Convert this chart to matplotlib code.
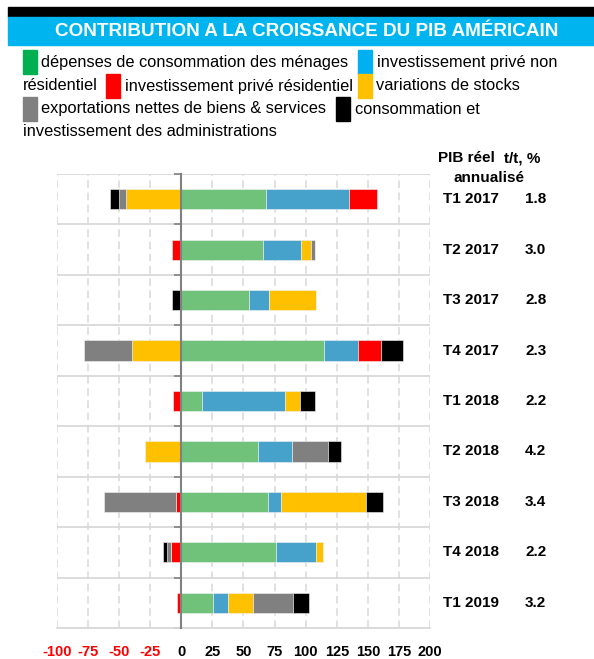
import numpy as np
import matplotlib
matplotlib.use('Agg')
import matplotlib.pyplot as plt
from matplotlib.patches import Rectangle
from matplotlib.ticker import FixedLocator

# data
quarters = ['T1 2017', 'T2 2017', 'T3 2017', 'T4 2017', 'T1 2018',
            'T2 2018', 'T3 2018', 'T4 2018', 'T1 2019']
pib = ['1.8', '3.0', '2.8', '2.3', '2.2', '4.2', '3.4', '2.2', '3.2']

menages = [67.7, 65.3, 54.3, 115.0, 16.7, 61.3, 69.9, 75.8, 25.5]
inv_non_res = [67.0, 30.9, 16.1, 27.2, 66.7, 27.4, 10.2, 32.5, 11.8]
inv_res = [22.6, -7.3, 0.0, 18.0, -6.7, -0.5, -4.0, -8.0, -3.5]
stocks = [-44.4, 7.8, 37.6, -39.5, 12.1, -29.0, 68.5, 5.6, 20.7]
exports = [-5.9, 3.5, 0.0, -39.0, 0.0, 29.3, -58.6, -3.8, 31.7]
admin = [-7.0, 0.0, -7.3, 17.7, 12.4, 10.2, 13.2, -3.2, 13.2]

series = [menages, inv_non_res, inv_res, stocks, exports, admin]
bar_colors = ['#70C17A', '#46A2CA', '#FF0000', '#FFC000', '#808080', '#000000']
leg_colors = ['#00B050', '#00B0F0', '#FF0000', '#FFC000', '#808080', '#000000']

xticks = [-100, -75, -50, -25, 0, 25, 50, 75, 100, 125, 150, 175, 200]

plt.rcParams['font.family'] = ['Liberation Sans', 'DejaVu Sans']

W, H = 594, 659
fig = plt.figure(figsize=(W / 100, H / 100), dpi=100)
fig.patch.set_facecolor('white')


def fx(px):
    return px / W


def fy(py):
    return 1 - py / H


# title bands
fig.patches.append(Rectangle((fx(8), fy(17)), 1, 10 / H, transform=fig.transFigure,
                             color='black', zorder=0))
fig.patches.append(Rectangle((fx(8), fy(45)), 1, 28 / H, transform=fig.transFigure,
                             color='#00B5EF', zorder=0))
fig.text(fx(307), fy(31), 'CONTRIBUTION A LA CROISSANCE DU PIB AMÉRICAIN',
         color='white', fontsize=13.6, fontweight='bold', ha='center', va='center')

# legend written as wrapped text with coloured squares
leg_fs = 11.8
items = [
    ('sq', 0, 22.7, 62), ('tx', 'dépenses de consommation des ménages', 41, 62),
    ('sq', 1, 358, 62), ('tx', 'investissement privé non', 377, 62),
    ('tx', 'résidentiel', 22.7, 86), ('sq', 2, 106, 86),
    ('tx', 'investissement privé résidentiel', 125, 86),
    ('sq', 3, 358, 86), ('tx', 'variations de stocks', 376, 86),
    ('sq', 4, 22.7, 109), ('tx', 'exportations nettes de biens & services', 41, 109),
    ('sq', 5, 336, 109), ('tx', 'consommation et', 355, 109),
    ('tx', 'investissement des administrations', 22.7, 132),
]
for kind, what, x, y in items:
    if kind == 'sq':
        fig.patches.append(Rectangle((fx(x), fy(y + 12)), 14 / W, 24 / H,
                                     transform=fig.transFigure,
                                     color=leg_colors[what]))
    else:
        fig.text(fx(x), fy(y), what, fontsize=leg_fs, ha='left', va='center',
                 color='black')

# chart
ax = fig.add_axes([fx(57), fy(628), (430 - 57) / W, (628 - 174) / H])
y = np.arange(len(quarters))
pos = np.zeros(len(quarters))
neg = np.zeros(len(quarters))
for vals, col in zip(series, bar_colors):
    v = np.array(vals)
    left = np.where(v >= 0, pos, neg)
    ax.barh(y, v, left=left, height=0.4, color=col, edgecolor='#F2F2F2',
            linewidth=0.4, zorder=3)
    pos = pos + np.where(v > 0, v, 0)
    neg = neg + np.where(v < 0, v, 0)

ax.set_xlim(-100, 200)
ax.set_ylim(len(quarters) - 0.5, -0.5)
ax.xaxis.set_major_locator(FixedLocator(xticks))
ax.set_xticklabels([str(t) for t in xticks])
for lab, t in zip(ax.get_xticklabels(), xticks):
    lab.set_color('#FF0000' if t < 0 else 'black')
    lab.set_fontweight('bold')
    lab.set_fontsize(10.5)
ax.tick_params(axis='x', length=0, pad=12)

ax.set_yticks([])
ax.yaxis.set_minor_locator(FixedLocator(np.arange(-0.5, len(quarters), 1)))
ax.tick_params(axis='y', which='minor', length=5, width=1.2, color='#808080',
               direction='out')

ax.grid(axis='x', which='major', color='#D9D9D9', linestyle=(0, (5, 3)),
        linewidth=1.1, zorder=0)
ax.grid(axis='y', which='minor', color='#D9D9D9', linestyle='-',
        linewidth=1.3, zorder=0)

ax.spines['left'].set_position(('data', 0))
ax.spines['left'].set_color('#808080')
ax.spines['left'].set_linewidth(1.5)
ax.spines['left'].set_zorder(4)
ax.spines['top'].set_visible(False)
ax.spines['right'].set_visible(False)
ax.spines['bottom'].set_color('#D9D9D9')
ax.spines['bottom'].set_linewidth(1.3)

# right-hand labels
tr = ax.get_yaxis_transform()
lab_fs = 11
ax.text(1.021, 1.035, 'PIB réel', transform=ax.transAxes, fontsize=lab_fs,
        fontweight='bold', ha='left', va='center')
ax.text(1.198, 1.035, 't/t, %', transform=ax.transAxes, fontsize=lab_fs,
        fontweight='bold', ha='left', va='center')
ax.text(1.064, 0.991, 'annualisé', transform=ax.transAxes, fontsize=lab_fs,
        fontweight='bold', ha='left', va='center')
for yi, q, p in zip(y, quarters, pib):
    ax.text(1.035, yi, q, transform=tr, fontsize=lab_fs, fontweight='bold',
            ha='left', va='center')
    ax.text(1.255, yi, p, transform=tr, fontsize=lab_fs, fontweight='bold',
            ha='left', va='center')

fig.savefig('out.png', dpi=100, facecolor='white')
